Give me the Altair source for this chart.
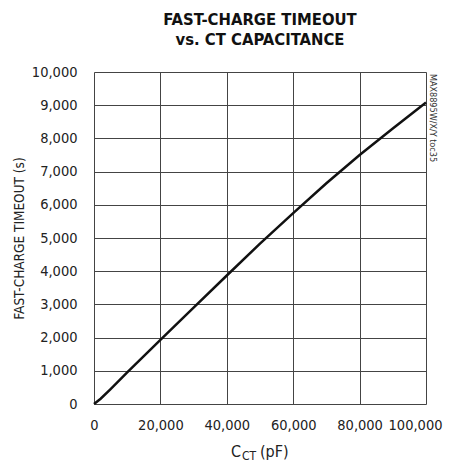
import altair as alt
import pandas as pd

cap_pf = [0, 2000, 5000, 10000, 20000, 30000, 40000, 50000, 60000, 70000, 80000, 90000, 100000]
timeout_s = [0, 160, 450, 950, 1930, 2900, 3870, 4830, 5750, 6650, 7500, 8300, 9080]

x_ticks = [0, 20000, 40000, 60000, 80000, 100000]
y_ticks = [0, 1000, 2000, 3000, 4000, 5000, 6000, 7000, 8000, 9000, 10000]

df = pd.DataFrame({"cap": cap_pf, "t": timeout_s})

FONT = "DejaVu Sans Condensed"

x_enc = alt.X("cap:Q", scale=alt.Scale(domain=[0, 100000], nice=False),
              axis=alt.Axis(values=x_ticks, format=",d", title=None, grid=True,
                            gridColor="#444", gridWidth=1, domain=False, ticks=False,
                            labelPadding=14, labelFontSize=14.5, labelFont=FONT,
                            labelColor="#222", labelFlush=False,
                            labelAlign=alt.ConditionalAxisLabelAlign(
                                condition={"test": "datum.value >= 100000", "value": "right"},
                                value="center"),
                            labelOffset=alt.ConditionalAxisNumber(
                                condition={"test": "datum.value >= 100000", "value": 16},
                                value=0)))
y_enc = alt.Y("t:Q", scale=alt.Scale(domain=[0, 10000], nice=False),
              axis=alt.Axis(values=y_ticks, format=",d", title="FAST-CHARGE TIMEOUT (s)",
                            grid=True, gridColor="#444", gridWidth=1, domain=False, ticks=False,
                            labelPadding=17, labelFontSize=14.5, labelFont=FONT, labelColor="#222",
                            titleFont=FONT, titleFontSize=13.5, titleFontWeight="normal",
                            titleColor="#222", titlePadding=5))

line = alt.Chart(df).mark_line(color="#111", strokeWidth=2.5).encode(x=x_enc, y=y_enc)

xt1 = alt.Chart(pd.DataFrame({"s": ["C"]})).mark_text(
    font=FONT, fontSize=16, color="#222", align="left", baseline="alphabetic"
).encode(x=alt.value(137), y=alt.value(385), text="s:N")
xt2 = alt.Chart(pd.DataFrame({"s": ["CT"]})).mark_text(
    font=FONT, fontSize=12, color="#222", align="left", baseline="alphabetic"
).encode(x=alt.value(148), y=alt.value(388), text="s:N")
xt3 = alt.Chart(pd.DataFrame({"s": ["(pF)"]})).mark_text(
    font=FONT, fontSize=16, color="#222", align="left", baseline="alphabetic"
).encode(x=alt.value(166), y=alt.value(385), text="s:N")
side = alt.Chart(pd.DataFrame({"s": ["MAX8895W/X/Y toc35"]})).mark_text(
    font=FONT, fontSize=9, color="#333", align="left", baseline="middle", angle=90
).encode(x=alt.value(339), y=alt.value(2), text="s:N")

chart = alt.layer(line, xt1, xt2, xt3, side).properties(
    width=332, height=332,
    padding={"left": 86, "top": 64, "right": 17, "bottom": 58},
    autosize=alt.AutoSizeParams(type="none"),
    title=alt.TitleParams(text=["FAST-CHARGE TIMEOUT", "vs. CT CAPACITANCE"],
                          font=FONT, fontSize=16.5, fontWeight="bold", color="#111",
                          anchor="middle", offset=16, lineHeight=20),
).configure_view(stroke="#111", strokeWidth=3).configure(background="white")

chart.save("out.html", embed_options={"renderer": "svg", "actions": False})
